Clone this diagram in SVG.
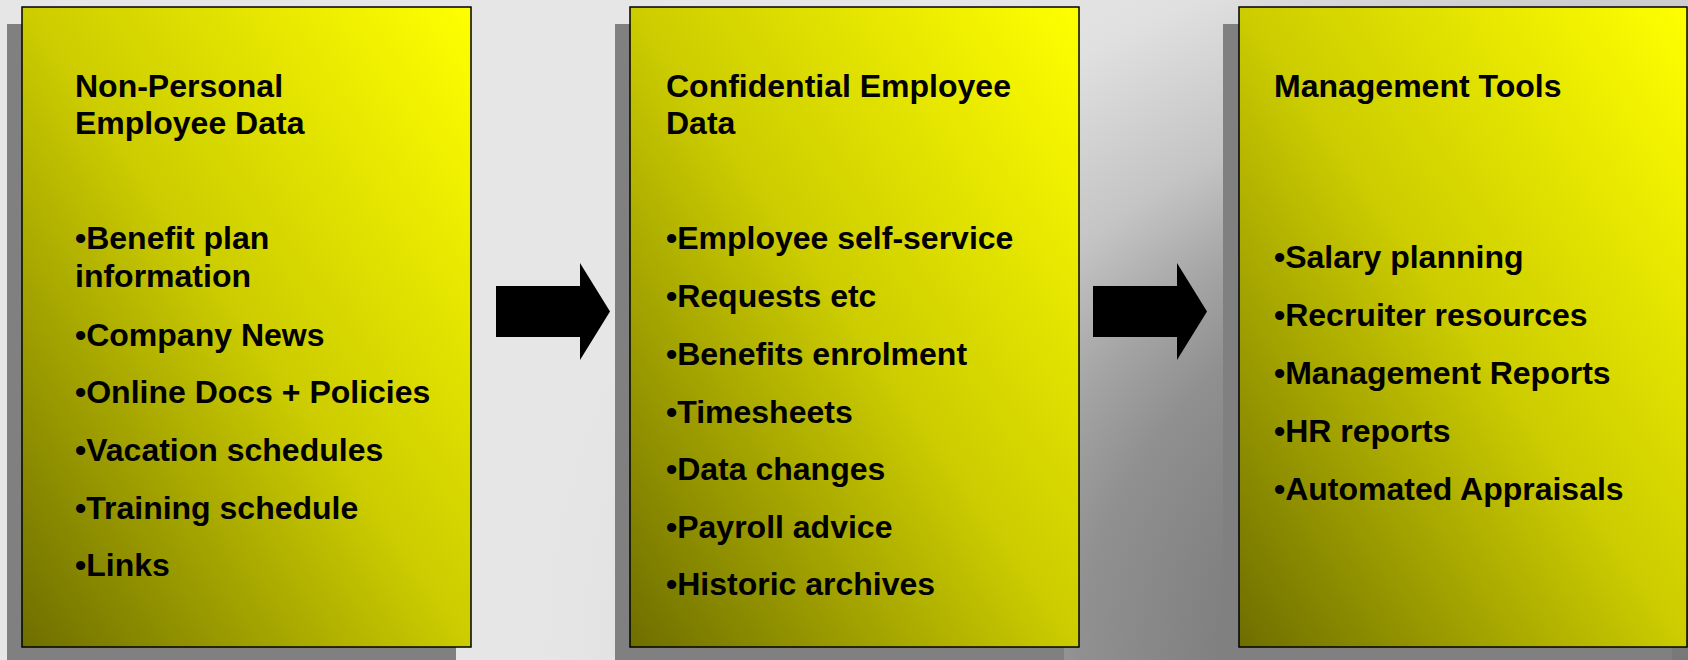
<svg xmlns="http://www.w3.org/2000/svg" width="1688" height="660" viewBox="0 0 1688 660">
<defs>
<radialGradient id="bg" gradientUnits="userSpaceOnUse" cx="0" cy="0" r="1150" gradientTransform="translate(1688 660) scale(1 0.75)">
<stop offset="0" stop-color="#787878"/>
<stop offset="0.407" stop-color="#808080"/>
<stop offset="0.529" stop-color="#909090"/>
<stop offset="0.609" stop-color="#a4a4a4"/>
<stop offset="0.711" stop-color="#c4c4c4"/>
<stop offset="0.877" stop-color="#e0e0e0"/>
<stop offset="1" stop-color="#e6e6e6"/>
</radialGradient>
<linearGradient id="yel" x1="0" y1="1" x2="1" y2="0">
<stop offset="0" stop-color="#6e6e00"/>
<stop offset="0.5" stop-color="#cccc00"/>
<stop offset="1" stop-color="#ffff00"/>
</linearGradient>
<style>
.shadow{fill:#808080;}
.box{fill:url(#yel);stroke:#000;stroke-width:1.5;}
.t{font-family:"Liberation Sans",Arial,Helvetica,sans-serif;font-weight:bold;font-size:32px;fill:#000;}
.arrow{fill:#000;}
</style>
</defs>
<rect x="0" y="0" width="1688" height="660" fill="url(#bg)"/>

<g id="node-nonpersonal">
<rect class="shadow" x="7" y="24" width="449" height="640"/>
<rect class="box" x="22" y="7" width="449" height="640"/>
<text class="t" x="75" y="97">Non-Personal</text>
<text class="t" x="75" y="134">Employee Data</text>
<text class="t" x="75" y="249">•Benefit plan</text>
<text class="t" x="75" y="287">information</text>
<text class="t" x="75" y="345.5">•Company News</text>
<text class="t" x="75" y="403.3">•Online Docs + Policies</text>
<text class="t" x="75" y="461">•Vacation schedules</text>
<text class="t" x="75" y="518.5">•Training schedule</text>
<text class="t" x="75" y="576">•Links</text>
</g>

<g id="node-confidential">
<rect class="shadow" x="615" y="24" width="449" height="640"/>
<rect class="box" x="630" y="7" width="449" height="640"/>
<text class="t" x="666" y="97">Confidential Employee</text>
<text class="t" x="666" y="134">Data</text>
<text class="t" x="666" y="249">•Employee self-service</text>
<text class="t" x="666" y="307">•Requests etc</text>
<text class="t" x="666" y="365">•Benefits enrolment</text>
<text class="t" x="666" y="422.5">•Timesheets</text>
<text class="t" x="666" y="480">•Data changes</text>
<text class="t" x="666" y="537.5">•Payroll advice</text>
<text class="t" x="666" y="595">•Historic archives</text>
</g>

<g id="node-management">
<rect class="shadow" x="1223" y="24" width="449" height="640"/>
<rect class="box" x="1239" y="7" width="448" height="640"/>
<text class="t" x="1274" y="97">Management Tools</text>
<text class="t" x="1274" y="268">•Salary planning</text>
<text class="t" x="1274" y="326">•Recruiter resources</text>
<text class="t" x="1274" y="384">•Management Reports</text>
<text class="t" x="1274" y="442">•HR reports</text>
<text class="t" x="1274" y="500">•Automated Appraisals</text>
</g>

<g id="connectors">
<polygon class="arrow" points="496,286 580,286 580,263 610,311.5 580,360 580,337 496,337"/>
<polygon class="arrow" points="1093,286 1177,286 1177,263 1207,311.5 1177,360 1177,337 1093,337"/>
</g>
</svg>
